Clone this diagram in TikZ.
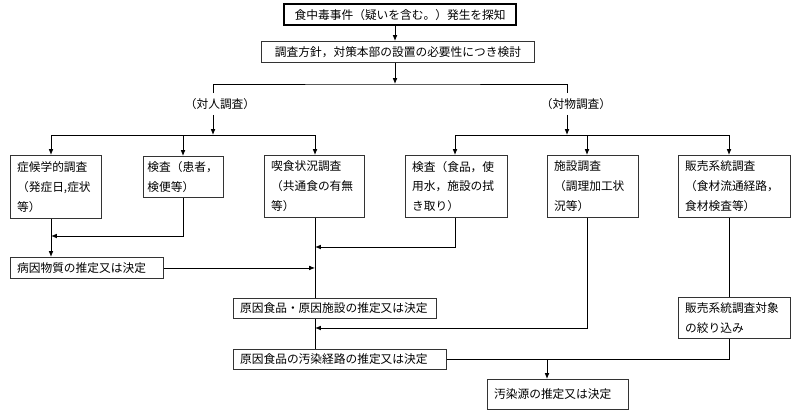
\documentclass[tikz,border=0pt]{standalone}
\usepackage{fontspec}
\newfontfamily\jp{Noto Sans CJK JP}
\usetikzlibrary{arrows.meta}

\begin{document}
\begin{tikzpicture}[x=0.03cm,y=-0.03cm,>={Latex[length=5pt,width=4pt]}]
	\tikzstyle{box}=[draw=black!80, line width=0.8pt, anchor=north west,
					inner xsep=0.2cm, inner ysep=1pt, align=left,
					font=\fontsize{10}{17}\selectfont\jp]
	\tikzstyle{branch}=[inner xsep=0pt, inner ysep=0.15cm,
					font=\fontsize{10}{17}\selectfont\jp]
	\tikzstyle{link}=[line width=0.7pt]

	\useasboundingbox (0,0) rectangle (800,419);
	\fill[white] (0,0) rectangle (800,419);

	% columns
	\foreach \name/\x in {c0/395, c1/51, c2/183, c3/315, c4/455, c5/587, c6/729, c7/547}
		\coordinate (\name) at (\x,0);

	% start
	\node[box, draw=black, line width=2pt, text width=6.56cm, minimum height=0.63cm, align=center] (start) at (283,3) {食中毒事件（疑いを含む。）発生を探知};
	\node[box, text width=7.79cm, minimum height=0.63cm, align=center] (policy) at (261,41) {調査方針，対策本部の設置の必要性につき検討};

	% branches
	\coordinate (split) at (395,84);
	\coordinate (pjoin) at (213,135);
	\coordinate (ojoin) at (567,135);
	\node[branch] (person) at (220,104) {（対人調査）};
	\node[branch] (object) at (576,104) {（対物調査）};

	% person side
	\node[box, text width=2.33cm, minimum height=1.89cm] (sympt) at (10,155) {症候学的調査\\（発症日,症状\\等）};
	\node[box, inner xsep=0.12cm, text width=2.16cm, minimum height=1.23cm] (exam1) at (143,156) {検査（患者，\\検便等）};
	\node[box, text width=2.6cm, minimum height=1.86cm] (diet) at (264,155) {喫食状況調査\\（共通食の有無\\等）};

	% object side
	\node[box, text width=2.66cm, minimum height=1.86cm] (exam2) at (405,155) {検査（食品，使\\用水，施設の拭\\き取り）};
	\node[box, text width=2.33cm, minimum height=1.86cm] (facil) at (547,155) {施設調査\\（調理加工状\\況等）};
	\node[box, text width=2.96cm, minimum height=1.86cm] (sales) at (678,155) {販売系統調査\\（食材流通経路，\\食材検査等）};

	% results
	\node[box, text width=4.19cm, minimum height=0.63cm] (cause) at (10,257) {病因物質の推定又は決定};
	\node[box, text width=5.69cm, minimum height=0.6cm] (food) at (233,298) {原因食品・原因施設の推定又は決定};
	\node[box, text width=5.99cm, minimum height=0.6cm] (route) at (233,349) {原因食品の汚染経路の推定又は決定};
	\node[box, text width=2.96cm, minimum height=1.23cm] (narrow) at (678,297) {販売系統調査対象\\の絞り込み};
	\node[box, text width=3.83cm, minimum height=0.9cm] (source) at (487,379) {汚染源の推定又は決定};

	\coordinate (m1) at (51,236);
	\coordinate (m2) at (315,247);
	\coordinate (m3) at (315,328);

	% edges
	\draw[link,->] (start.south -| c0) -- (policy.north -| c0);
	\draw[link,->] (policy.south -| c0) -- (split);
	\draw[link] (person.north -| pjoin) |- (split) -| (object.north -| ojoin);
	\draw[link,->] (person.south -| pjoin) -- (pjoin);
	\draw[link,->] (object.south -| ojoin) -- (ojoin);

	\draw[link,->] (pjoin) -| (sympt.north -| c1);
	\draw[link,->] (pjoin) -| (diet.north -| c3);
	\draw[link,->] (pjoin -| c2) -- (exam1.north -| c2);
	\draw[link,->] (ojoin) -| (exam2.north -| c4);
	\draw[link,->] (ojoin) -| (sales.north -| c6);
	\draw[link,->] (ojoin -| c5) -- (facil.north -| c5);

	\draw[link,->] (sympt.south -| c1) -- (cause.north -| c1);
	\draw[link,->] (exam1.south -| c2) |- (m1);
	\draw[link,->] (cause.east) -- (cause.east -| c3);
	\draw[link] (diet.south -| c3) -- (food.north -| c3);
	\draw[link,->] (exam2.south -| c4) |- (m2);
	\draw[link] (food.south -| c3) -- (route.north -| c3);
	\draw[link,->] (facil.south -| c5) |- (m3);
	\draw[link] (sales.south -| c6) -- (narrow.north -| c6);
	\draw[link] (route.east) -| (narrow.south -| c6);
	\draw[link,->] (route.east -| c7) -- (source.north -| c7);

\end{tikzpicture}
\end{document}
